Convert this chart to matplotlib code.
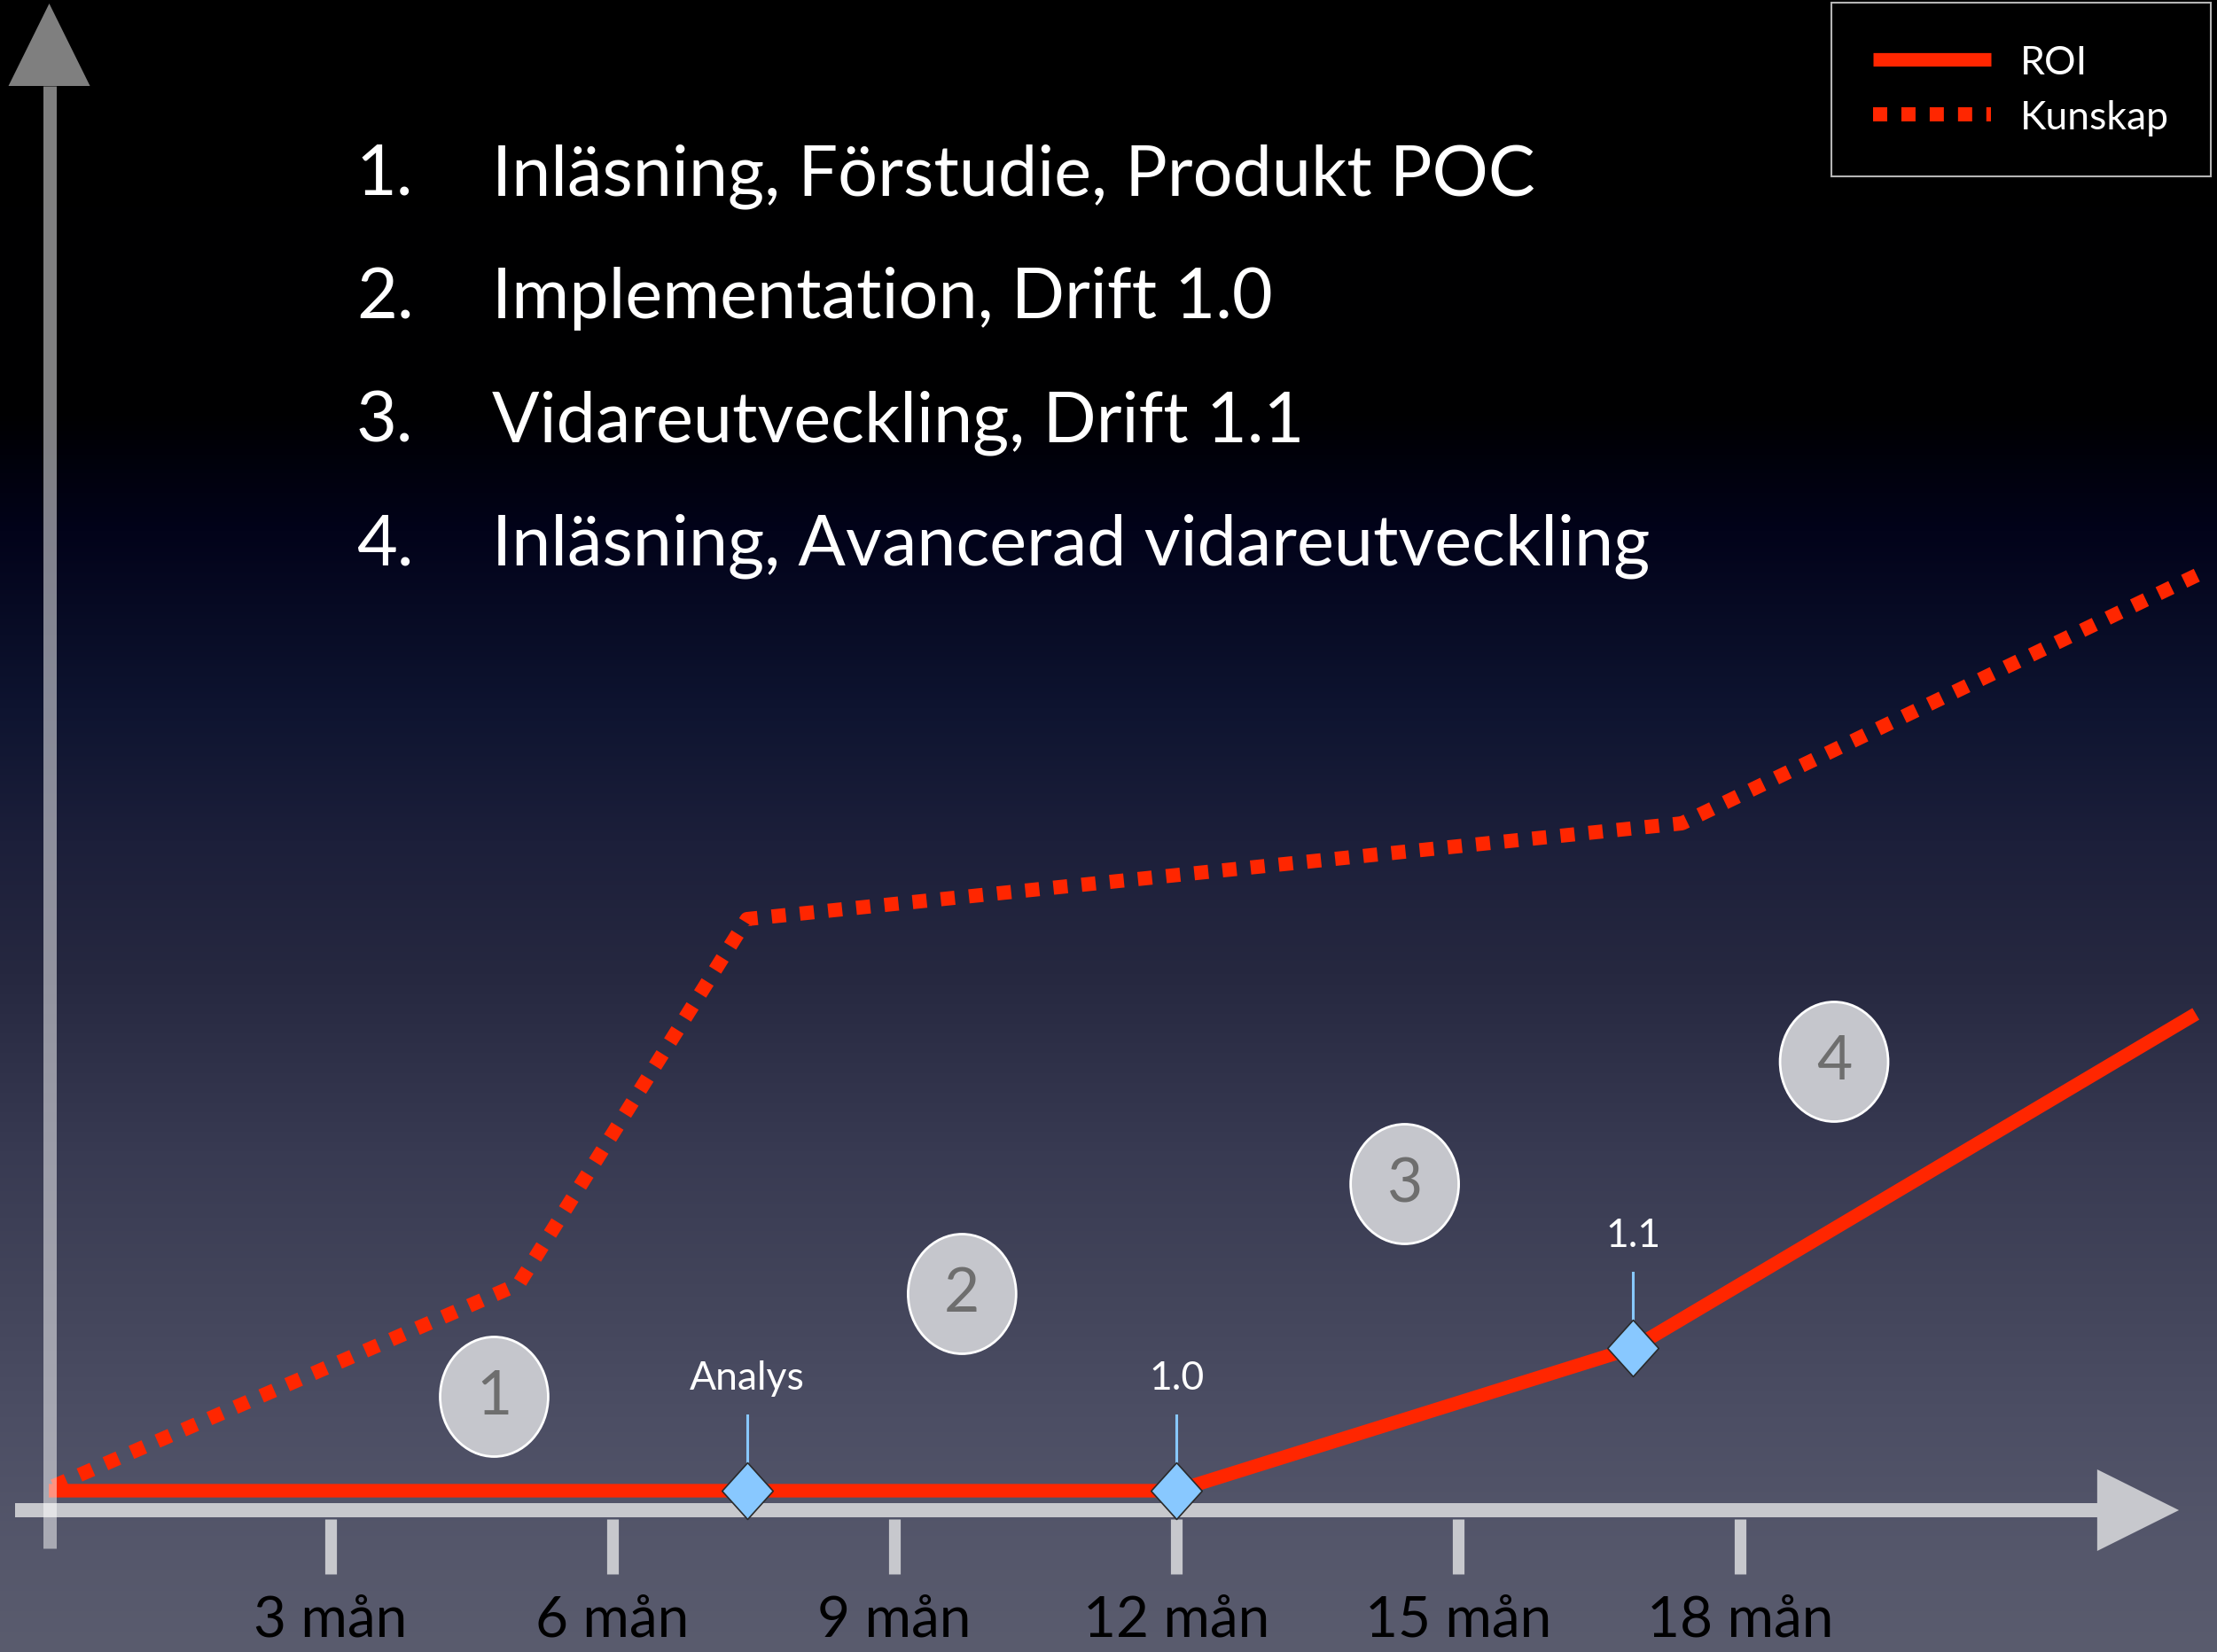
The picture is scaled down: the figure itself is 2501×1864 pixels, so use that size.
import matplotlib
matplotlib.use("Agg")
import matplotlib.pyplot as plt
import numpy as np
from matplotlib.patches import Ellipse, Polygon
from matplotlib.path import Path

# --- data ---
roi_months = [0, 12, 16.86, 22.85]
roi_values = [0, 0, 1.61, 5.38]

kunskap_months = [0.05, 5.0, 7.43, 17.38, 22.86]
kunskap_values = [0.05, 2.33, 6.45, 7.53, 10.33]

milestone_labels = ["Analys", "1.0", "1.1"]
milestone_months = [7.43, 12, 16.86]
milestone_values = [0, 0, 1.61]

phase_labels = ["1", "2", "3", "4"]
phase_months = [4.74, 9.72, 14.43, 19.0]
phase_values = [1.06, 2.22, 3.46, 4.84]

tick_months = [3, 6, 9, 12, 15, 18]
tick_labels = ["3 mån", "6 mån", "9 mån", "12 mån", "15 mån", "18 mån"]

steps = [
    "Inläsning, Förstudie, Produkt POC",
    "Implementation, Drift 1.0",
    "Vidareutveckling, Drift 1.1",
    "Inläsning, Avancerad vidareutveckling",
]

FONT = ["Liberation Sans Narrow", "Lato", "DejaVu Sans"]
RED = "#ff2600"
AXIS_GRAY = "#c7c8cd"

W, H = 2501, 1865
fig = plt.figure(figsize=(W / 100, H / 100), dpi=100)
ax = fig.add_axes([0, 0, 1, 1])
ax.set_xlim(-0.519, 23.075)
ax.set_ylim(-1.82, 16.83)
ax.axis("off")

# background gradient (top black -> navy -> grey blue)
stops_px = [0, 470, 600, 800, 950, 1100, 1300, 1450, 1600, 1750, 1865]
stops_rgb = np.array([
    [0, 0, 0], [0, 0, 2], [2, 3, 26], [14, 20, 48], [28, 31, 58],
    [38, 40, 64], [56, 58, 82], [66, 68, 90], [76, 78, 100],
    [85, 87, 107], [90, 92, 110]]) / 255
rows = np.arange(H)
grad = np.stack([np.interp(rows, stops_px, stops_rgb[:, i]) for i in range(3)], axis=1)
ax.imshow(grad[:, None, :], extent=[-0.519, 23.075, -1.82, 16.83],
          aspect="auto", zorder=0, interpolation="bilinear")

# x axis with arrow head
ax.plot([-0.358, 21.81], [-0.22, -0.22], color=AXIS_GRAY, lw=11.5,
        solid_capstyle="butt", zorder=2)
ax.add_patch(Polygon([[21.80, -0.22 + 0.46], [22.67, -0.22], [21.80, -0.22 - 0.46]],
                     closed=True, color=AXIS_GRAY, zorder=2, lw=0))

# ticks
ax.vlines(tick_months, -0.94, -0.32, color=AXIS_GRAY, lw=9.5, zorder=2)
for m, lab in zip(tick_months, tick_labels):
    ax.text(m, -1.64, lab, ha="center", va="baseline", fontsize=46,
            color="black", family=FONT)

# lines
kun, = ax.plot(kunskap_months, kunskap_values, color=RED, lw=11.5,
               linestyle=(0, (1, 1)), dash_capstyle="butt", zorder=3,
               label="Kunskap")
roi, = ax.plot(roi_months, roi_values, color=RED, lw=11,
               solid_capstyle="butt", solid_joinstyle="miter", zorder=4,
               label="ROI")

# y axis with arrow head (semi transparent)
ax.plot([0.005, 0.005], [-0.65, 15.85], color="white", alpha=0.5, lw=10.8,
        solid_capstyle="butt", zorder=5)
ax.add_patch(Polygon([[0.005 - 0.434, 15.85], [0.005, 16.78], [0.005 + 0.434, 15.85]],
                     closed=True, color="white", alpha=0.5, zorder=5, lw=0))

# milestones
diamond = Path([(0, 1), (0.9, 0), (0, -1), (-0.9, 0), (0, 1)],
               [Path.MOVETO, Path.LINETO, Path.LINETO, Path.LINETO, Path.CLOSEPOLY])
for lab, m, v in zip(milestone_labels, milestone_months, milestone_values):
    ax.plot([m, m], [v + 0.3, v + 0.85], color="#88c8ff", lw=2.2, zorder=6)
    ax.plot(m, v, marker=diamond, markersize=46, markerfacecolor="#88c8ff",
            markeredgecolor="#2a2a2a", markeredgewidth=1.2, zorder=7)
    ax.text(m, v + 1.15, lab, ha="center", va="baseline", fontsize=32,
            color="white", family=FONT, zorder=7)

# phase circles
for lab, m, v in zip(phase_labels, phase_months, phase_values):
    ax.add_patch(Ellipse((m, v), 1.15, 1.35, facecolor="#c5c6cc",
                         edgecolor="white", lw=2, zorder=6))
    ax.text(m, v, lab, ha="center", va="center", fontsize=50,
            color="#6e6e6e", family=FONT, zorder=7)

# numbered list
for i, s in enumerate(steps):
    y = 1 - (220 + 139.3 * i) / H
    fig.text(402 / W, y, f"{i + 1}.", ha="left", va="baseline",
             fontsize=57, color="white", family=FONT)
    fig.text(555 / W, y, s, ha="left", va="baseline",
             fontsize=57, color="white", family=FONT)

# legend
leg = ax.legend(handles=[roi, kun], loc="upper right",
                bbox_to_anchor=(2494 / W, 1 - 4 / H), bbox_transform=fig.transFigure,
                borderaxespad=0, labelcolor="white",
                facecolor="black", edgecolor="#b4b4b4", framealpha=1,
                fancybox=False, handlelength=3.0, handletextpad=0.75,
                labelspacing=0.47, borderpad=1.05, prop={"family": FONT, "size": 32})
leg.get_frame().set_linewidth(1.5)
leg.set_zorder(10)

fig.savefig("out.png", dpi=100)
